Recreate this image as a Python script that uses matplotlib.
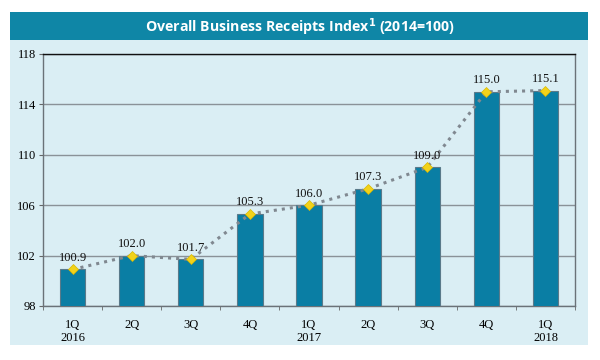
import matplotlib.pyplot as plt
from matplotlib.patches import Rectangle

quarters = ["1Q\n2016", "2Q", "3Q", "4Q", "1Q\n2017", "2Q", "3Q", "4Q", "1Q\n2018"]
index_values = [100.9, 102.0, 101.7, 105.3, 106.0, 107.3, 109.0, 115.0, 115.1]
y_ticks = [98, 102, 106, 110, 114, 118]

fig = plt.figure(figsize=(6, 3.6), dpi=100)
fig.patch.set_facecolor("white")

# light blue panel + teal header band
W, H = 600, 360
fig.patches.append(Rectangle((10 / W, 1 - 345 / H), 578 / W, 333 / H,
                             transform=fig.transFigure, facecolor="#daeef4",
                             edgecolor="none", zorder=-2))
fig.patches.append(Rectangle((10 / W, 1 - 40 / H), 578 / W, 28 / H,
                             transform=fig.transFigure, facecolor="#0f86a6",
                             edgecolor="none", zorder=-1))
fig.text(300 / W, 1 - 27 / H, r"Overall Business Receipts Index$^{\mathbf{1}}$ (2014=100)",
         ha="center", va="center", color="white", fontsize=10.2,
         fontweight="bold", family="Open Sans")

ax = fig.add_axes([43 / W, 1 - 306 / H, 532 / W, 252 / H])
ax.set_facecolor("#daeef4")

x = list(range(len(quarters)))
ax.bar(x, index_values, width=0.43, bottom=0, color="#0a7ea4",
       edgecolor="#5a7a8a", linewidth=0.8, zorder=3)
ax.plot(x, index_values, linestyle=":", color="#808890", linewidth=2.2,
        marker="D", markersize=5, markerfacecolor="#f2d21a",
        markeredgecolor="#d9b800", markeredgewidth=0.5, zorder=4)

for xi, v in zip(x, index_values):
    ax.text(xi, v + 0.45, f"{v:.1f}", ha="center", va="bottom",
            fontsize=9, family="Liberation Serif", color="#111", zorder=5)

ax.set_xlim(-0.5, len(quarters) - 0.5)
ax.set_ylim(98, 118)
ax.set_yticks(y_ticks)
ax.set_yticklabels([str(t) for t in y_ticks], family="Liberation Serif", fontsize=9)
ax.set_xticks(x)
ax.set_xticklabels(quarters, family="Liberation Serif", fontsize=9)
ax.set_xticks([i + 0.5 for i in range(-1, len(quarters))], minor=True)
ax.tick_params(axis="x", which="major", length=0, pad=9)
ax.tick_params(axis="x", which="minor", length=3, color="#666", direction="out")
ax.tick_params(axis="y", length=3, color="#666", direction="out", pad=2)
ax.grid(axis="y", color="#8a9298", linewidth=1.0, zorder=1)

ax.spines["top"].set_color("#111")
ax.spines["top"].set_linewidth(1.0)
for s in ("left", "bottom", "right"):
    ax.spines[s].set_color("#6a7278")
    ax.spines[s].set_linewidth(1.0)

plt.savefig("out.png", dpi=100, facecolor="white")
